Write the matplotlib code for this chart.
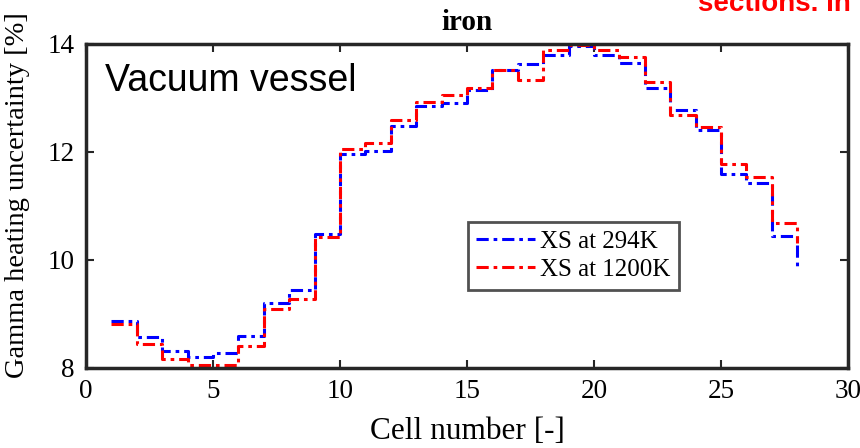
import matplotlib
matplotlib.use("Agg")
import matplotlib.pyplot as plt
import numpy as np

cells = list(range(1, 29))
xs_294 = [8.87, 8.57, 8.32, 8.20, 8.27, 8.59, 9.20, 9.44, 10.48, 11.97,
          12.01, 12.49, 12.85, 12.91, 13.15, 13.52, 13.63, 13.80, 13.97, 13.80,
          13.64, 13.18, 12.78, 12.41, 11.60, 11.42, 10.44, 9.86]
xs_1200 = [8.82, 8.44, 8.17, 8.05, 8.05, 8.41, 9.09, 9.28, 10.43, 12.05,
           12.16, 12.59, 12.93, 13.06, 13.18, 13.52, 13.33, 13.88, 13.98, 13.88,
           13.76, 13.30, 12.69, 12.47, 11.77, 11.53, 10.68, 10.31]
series_labels = ["XS at 294K", "XS at 1200K"]
x_ticks = [0, 5, 10, 15, 20, 25, 30]
y_ticks = [8, 10, 12, 14]

serif = ["Liberation Serif", "DejaVu Serif"]
sans = ["Liberation Sans", "DejaVu Sans"]

fig = plt.figure(figsize=(8.6, 4.48), dpi=100)
ax = fig.add_axes([0.1, 0.1786, 0.886, 0.7232])

dash = (0, (4.0, 1.6, 1.2, 1.6))
ax.step(cells, xs_294, where="post", color=(0, 0, 1), lw=2.2, linestyle=dash, label=series_labels[0])
ax.step(cells, xs_1200, where="post", color=(1, 0, 0), lw=2.2, linestyle=dash, label=series_labels[1])

ax.set_xlim(0, 30)
ax.set_ylim(8, 14)
ax.set_xticks(x_ticks)
ax.set_yticks(y_ticks)
ax.tick_params(direction="in", length=6, width=1.5, top=True, right=True,
               labelsize=19.5, color=(0.15, 0.15, 0.15), pad=8)
for lab in ax.get_xticklabels() + ax.get_yticklabels():
    lab.set_family(serif)
for s in ax.spines.values():
    s.set_linewidth(2.5)
    s.set_color((0.15, 0.15, 0.15))

ax.set_xlabel("Cell number [-]", fontsize=22.5, family=serif, labelpad=9)
ax.set_ylabel("Gamma heating uncertainty [%]", fontsize=20.5, family=serif)
ax.yaxis.set_label_coords(-0.073, 0.535)
ax.set_title("iron", fontsize=21, family=serif, fontweight="bold", pad=10)

ax.text(0.025, 0.94, "Vacuum vessel", transform=ax.transAxes, fontsize=27,
        family=sans, ha="left", va="top")

leg = ax.legend(loc="upper left", bbox_to_anchor=(0.501, 0.45), prop={"family": serif, "size": 18},
                frameon=True, fancybox=False, edgecolor=(0.15, 0.15, 0.15),
                handlelength=2.35, handletextpad=0.2, borderpad=0.34, labelspacing=0.22,
                borderaxespad=0)
leg.get_frame().set_linewidth(2.0)

fig.text(698 / 860, 1 - 11 / 448, "sections. In", color=(1, 0, 0), fontsize=20,
         family=sans, fontweight="bold", ha="left", va="baseline")

fig.savefig("out.png", dpi=100)
